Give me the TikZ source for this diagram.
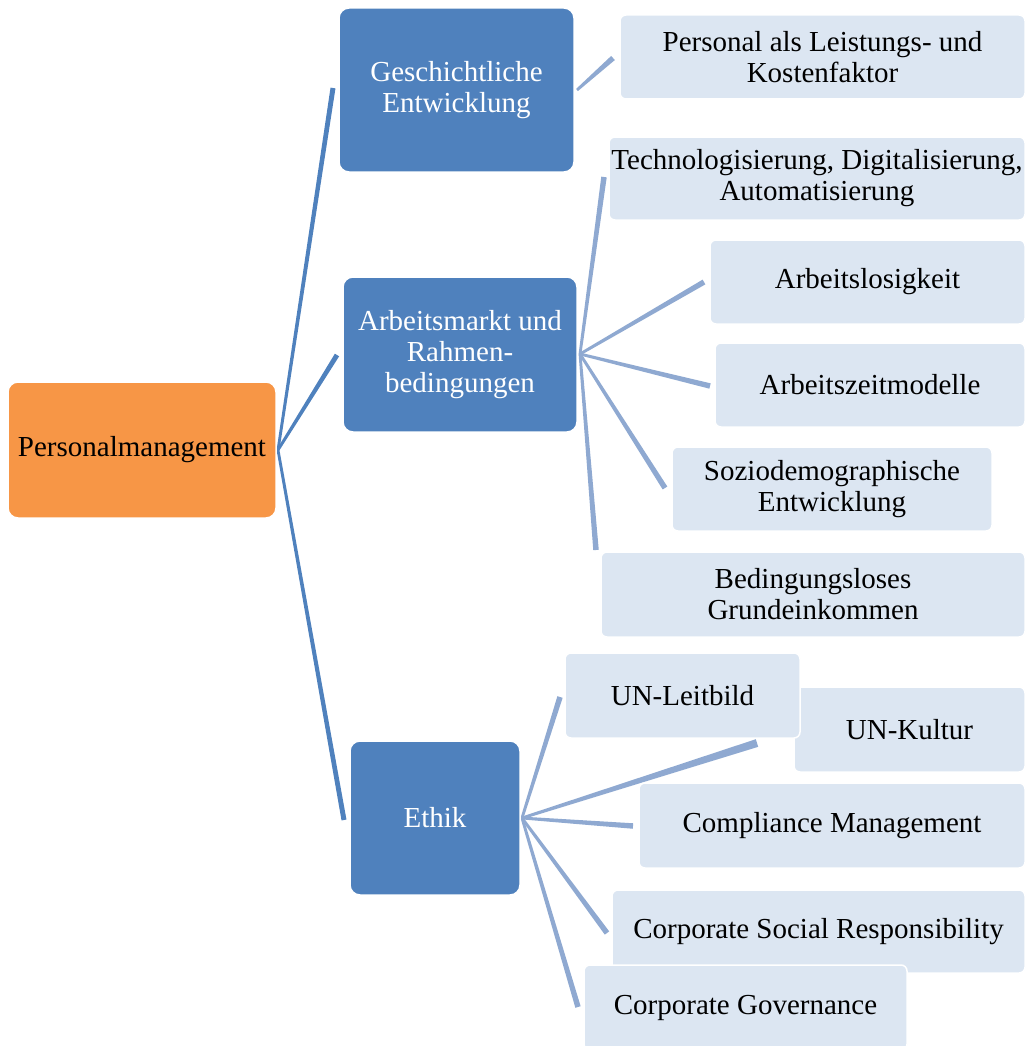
\documentclass[tikz,border=0pt]{standalone}
\usepackage{fontspec}
\setmainfont{Liberation Serif}
\usetikzlibrary{calc}
\definecolor{rootorange}{RGB}{247,150,70}
\definecolor{catblue}{RGB}{79,129,189}
\definecolor{leafblue}{RGB}{220,230,242}
\definecolor{linelight}{RGB}{143,169,209}
\newcommand\taperconn[4]{%
  \fill[#3] let \p1=(#1), \p2=(#2), \n1={atan2(\y2-\y1,\x2-\x1)} in
    ($(\p1)+(\n1+90:1.4pt)$) -- ($(\p2)+(\n1+90:#4/2)$) --
    ($(\p2)+(\n1-90:#4/2)$) -- ($(\p1)+(\n1-90:1.4pt)$) -- cycle;}
\begin{document}
\begin{tikzpicture}[x=1pt,y=-1pt,
  box/.style={draw=white,line width=1.5pt,inner sep=0pt,align=center,
    font=\fontsize{29}{31}\selectfont},
  rootbox/.style={box,fill=rootorange,text=black,rounded corners=10pt},
  catbox/.style={box,fill=catblue,text=white,rounded corners=10pt},
  leafbox/.style={box,fill=leafblue,text=black,rounded corners=6pt}]
\useasboundingbox (0,0) rectangle (1031,1046);
% hubs and connector ends
\coordinate (hubroot) at (278,450);
\coordinate (hubgesch) at (577,90);
\coordinate (hubarb) at (580,354);
\coordinate (hubeth) at (522,818);
\coordinate (eGesch) at (333,88);
\coordinate (eArb) at (337,355);
\coordinate (eEth) at (344,820);
\coordinate (ePers) at (613,58);
\coordinate (eTech) at (604,177);
\coordinate (eAlos) at (704,282);
\coordinate (eAzeit) at (710,386);
\coordinate (eSozio) at (665,488);
\coordinate (eBed) at (596,550);
\coordinate (eUNL) at (560,697);
\coordinate (eUNK) at (757,743);
\coordinate (eComp) at (633,826);
\coordinate (eCSR) at (607,933);
\coordinate (eCG) at (578,1007);
% connectors
\taperconn{hubroot}{eGesch}{catblue}{5pt}
\taperconn{hubroot}{eArb}{catblue}{5pt}
\taperconn{hubroot}{eEth}{catblue}{5pt}
\taperconn{hubgesch}{ePers}{linelight}{5.5pt}
\taperconn{hubarb}{eTech}{linelight}{5.5pt}
\taperconn{hubarb}{eAlos}{linelight}{5.5pt}
\taperconn{hubarb}{eAzeit}{linelight}{5.5pt}
\taperconn{hubarb}{eSozio}{linelight}{5.5pt}
\taperconn{hubarb}{eBed}{linelight}{5.5pt}
\taperconn{hubeth}{eUNL}{linelight}{5.5pt}
\taperconn{hubeth}{eUNK}{linelight}{8pt}
\taperconn{hubeth}{eComp}{linelight}{5.5pt}
\taperconn{hubeth}{eCSR}{linelight}{5.5pt}
\taperconn{hubeth}{eCG}{linelight}{5.5pt}
% boxes
\node[rootbox,minimum width=268pt,minimum height=136pt] (root) at (142,450) {Personalmanagement};
\node[catbox,minimum width=235pt,minimum height=164pt] (gesch) at (456.5,90) {Geschichtliche\\Entwicklung};
\node[catbox,minimum width=234pt,minimum height=155pt] (arb) at (460,354.5) {Arbeitsmarkt und\\Rahmen-\\bedingungen};
\node[catbox,minimum width=170pt,minimum height=154pt] (eth) at (435,818) {Ethik};
\node[leafbox,minimum width=405pt,minimum height=84pt] (pers) at (822.5,57) {Personal als Leistungs- und\\Kostenfaktor};
\node[leafbox,minimum width=416pt,minimum height=83pt] (tech) at (817,178.5) {Technologisierung, Digitalisierung,\\Automatisierung};
\node[leafbox,minimum width=315pt,minimum height=84pt] (alos) at (867.5,282) {Arbeitslosigkeit};
\node[leafbox,minimum width=310pt,minimum height=84pt] (azeit) at (870,385) {Arbeitszeitmodelle};
\node[leafbox,minimum width=320pt,minimum height=84pt] (sozio) at (832,489) {Soziodemographische\\Entwicklung};
\node[leafbox,minimum width=424pt,minimum height=85pt] (bed) at (813,594.5) {Bedingungsloses\\Grundeinkommen};
\node[leafbox,minimum width=231pt,minimum height=85pt] (unk) at (909.5,729.5) {UN-Kultur};
\node[leafbox,minimum width=235pt,minimum height=85pt] (unl) at (682.5,695.5) {UN-Leitbild};
\node[leafbox,minimum width=386pt,minimum height=85pt] (comp) at (832,825.5) {Compliance Management};
\node[leafbox,minimum width=413pt,minimum height=83pt] (csr) at (818.5,931.5) {Corporate Social Responsibility};
\node[leafbox,minimum width=323pt,minimum height=85pt] (cg) at (745.5,1007.5) {Corporate Governance};
\end{tikzpicture}
\end{document}
